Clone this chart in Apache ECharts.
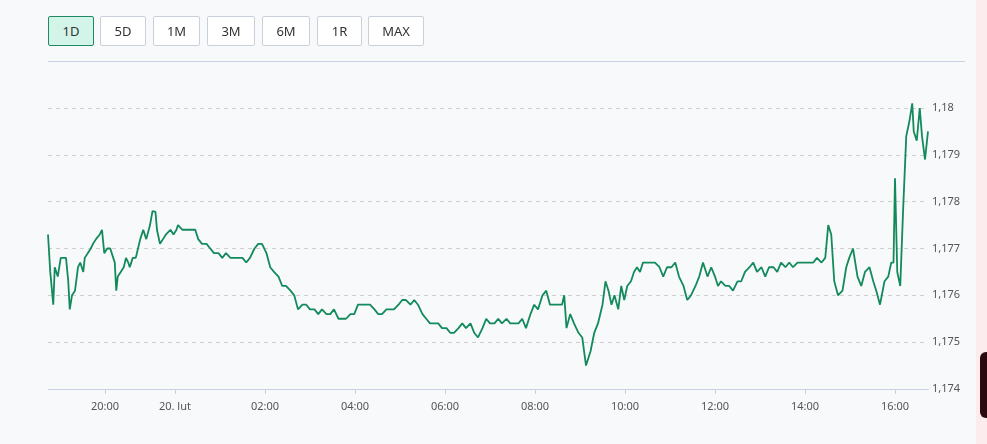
<!DOCTYPE html>
<html><head><meta charset="utf-8">
<script src="https://cdn.jsdelivr.net/npm/echarts@6/dist/echarts.min.js"></script>
<style>
html,body{margin:0;padding:0;background:#f8f9fa;font-family:"Noto Sans","Open Sans",sans-serif;}
#wrap{position:relative;width:987px;height:444px;overflow:hidden;}
.btn{position:absolute;top:16px;height:30px;box-sizing:border-box;border:1px solid #c9cfdb;background:#fff;font-size:13px;color:#333;display:flex;align-items:center;justify-content:center;border-radius:2px;}
.btn.on{background:#d3f5e9;border-color:#1f8a60;}
#sep{position:absolute;left:48px;top:61px;width:917px;height:1px;background:#c8d0e2;}
#chart{position:absolute;left:0;top:0;width:987px;height:444px;}
#pink{position:absolute;left:976px;top:0;width:11px;height:444px;background:#fcecee;}
#dark{position:absolute;left:980px;top:352px;width:7px;height:66px;background:#2a0a0f;border-radius:6px 0 0 6px;}
</style></head>
<body><div id="wrap">
<div id="chart"></div>
<div id="sep"></div>
<div class="btn on" style="left:48px;width:46px">1D</div>
<div class="btn" style="left:100px;width:46px">5D</div>
<div class="btn" style="left:153px;width:47px">1M</div>
<div class="btn" style="left:207px;width:48px">3M</div>
<div class="btn" style="left:262px;width:48px">6M</div>
<div class="btn" style="left:317px;width:45px">1R</div>
<div class="btn" style="left:368px;width:56px">MAX</div>
<div id="pink"></div><div id="dark"></div>
</div>
<script>
// minutes since 18:44 on 19 Feb
const START = 1124;
const offsets = [0,3,7,9,13,17,20,24,27,29,32,36,40,43,47,49,53,57,60,64,69,72,75,79,83,87,89,91,93,97,101,104,107,109,113,117,120,123,127,131,136,
286,290,292,296,300,304,310,314,318,320,326,331,336,343,
347,352,358,363,368,374,379,384,390,395,400,406,411,416,422,427,432,438,443,448,454,459,464,470,475,480,486,491,496,502,507,512,518,523,528,534,539,544,550,555,560,566,571,576,582,587,592,598,603,608,614,619,624,630,635,640,646,651,656,662,667,672,678,683,688,694,699,704,710,715,720,726,731,736,742,747,752,758,763,768,774,779,784,790,795,800,806,811,816,822,827,832,
835,838,843,848,854,859,864,870,875,880,886,890,894,898,902,907,911,915,919,924,928,932,936,940,946,951,956,962,967,972,978,983,988,994,999,1004,1010,1015,1020,1026,1031,1036,1040,1044,1050,1055,1060,1066,1071,1076,1082,1087,1092,1098,1103,1108,1114,1119,1124,1130,1135,1140,1146,1151,1156,1162,1167,1172,1178,1183,1187,1191,1195,1200,1206,1211,1215,1220,1226,1231,1236,1242,1247,1251,1256,1262,1267,1271,1274,1276,1279,1283,1287,1291,1295,1299,1301,1305,1309,1312,1316,1320];
const prices = [1.1773,1.1765,1.1758,1.1766,1.1764,1.1768,1.1768,1.1768,1.1763,1.1757,1.1760,1.1761,1.1766,1.1767,1.1765,1.1768,1.1769,1.1770,1.1771,1.1772,1.1773,1.1774,1.1769,1.1770,1.1770,1.1768,1.1767,1.1761,1.1764,1.1765,1.1766,1.1768,1.1767,1.1766,1.1768,1.1768,1.1770,1.1772,1.1774,1.1772,1.1775,
1.1778,1.17778,1.1774,1.1771,1.1772,1.1773,1.1774,1.1773,1.1774,1.1775,1.1774,1.1774,1.1774,1.1774,
1.1772,1.1771,1.1771,1.1770,1.1769,1.1769,1.1768,1.1769,1.1768,1.1768,1.1768,1.1768,1.1767,1.1768,1.1770,1.1771,1.1771,1.1769,1.1766,1.1765,1.1764,1.1762,1.1762,1.1761,1.1760,1.1757,1.1758,1.1758,1.1757,1.1757,1.1756,1.1757,1.1756,1.1756,1.1757,1.1755,1.1755,1.1755,1.1756,1.1756,1.1758,1.1758,1.1758,1.1758,1.1757,1.1756,1.1756,1.1757,1.1757,1.1757,1.1758,1.1759,1.1759,1.1758,1.1759,1.1758,1.1756,1.1755,1.1754,1.1754,1.1754,1.1753,1.1753,1.1752,1.1752,1.1753,1.1754,1.1753,1.1754,1.1752,1.1751,1.1753,1.1755,1.1754,1.1754,1.1755,1.1754,1.1755,1.1754,1.1754,1.1754,1.1755,1.1753,1.1756,1.1758,1.1757,1.1760,1.1761,1.1758,1.1758,1.1758,1.1758,
1.1760,1.1753,1.1756,1.1754,1.1752,1.1751,1.1745,1.1748,1.1752,1.1754,1.1758,1.1763,1.1761,1.1758,1.1760,1.1757,1.1762,1.1759,1.1762,1.1763,1.1765,1.1766,1.1765,1.1767,1.1767,1.1767,1.1767,1.1766,1.1764,1.1766,1.1766,1.1767,1.1764,1.1762,1.1759,1.1760,1.1762,1.1764,1.1767,1.1764,1.1766,1.1764,1.1762,1.1763,1.1762,1.1762,1.1761,1.1763,1.1763,1.1765,1.1766,1.1767,1.1765,1.1766,1.1764,1.1766,1.1766,1.1765,1.1767,1.1766,1.1767,1.1766,1.1767,1.1767,1.1767,1.1767,1.1767,1.1768,1.1767,1.1768,1.1775,1.1773,1.1763,1.1760,1.1761,1.1766,1.1768,1.1770,1.1764,1.1762,1.1765,1.1766,1.1763,1.1761,1.1758,1.1763,1.1764,1.1767,1.1767,1.1785,1.1765,1.1762,1.1779,1.1794,1.1797,1.1801,1.1795,1.1793,1.1800,1.1794,1.1789,1.1795,1.1792];
const tickMinutes = [1200,1440,1560,1680,1800,1920,2040,2160,2280,2400];

const data = offsets.map((m,i)=>[START+m, prices[i]]);
function fmtT(v){ if (v===1440) return '20. lut'; const mm=((v%1440)+1440)%1440; const h=Math.floor(mm/60), mi=Math.round(mm%60); return String(h).padStart(2,'0')+':'+String(mi).padStart(2,'0'); }
const chart = echarts.init(document.getElementById('chart'));
chart.setOption({
  animation:false,
  grid:{left:48,right:59,top:108,bottom:55},
  xAxis:{type:'value',min:START,max:START+1320,
    breaks:[{start:1260,end:1406.7,gap:0}],
    breakArea:{show:false},
    axisLine:{lineStyle:{color:'#c8d0e2',width:1}},
    axisTick:{show:true,customValues:tickMinutes,length:5,lineStyle:{color:'#c8d0e2'}},
    axisLabel:{customValues:tickMinutes,formatter:fmtT,color:'#555',fontSize:11,margin:12,fontFamily:'Noto Sans'},
    splitLine:{show:false}},
  yAxis:{type:'value',position:'right',min:1.174,max:1.18,interval:0.001,
    axisLine:{show:false},axisTick:{show:false},
    axisLabel:{color:'#555',fontSize:11,margin:4,fontFamily:'Noto Sans',
      formatter:v=>{ let s=(+v.toFixed(3)).toString(); return s.replace('.',','); }},
    splitLine:{lineStyle:{color:'#cfcfcf',type:[4,4]}}},
  series:[{type:'line',data:data,clip:false,showSymbol:false,symbol:'none',lineStyle:{color:'#128a5c',width:1.8},itemStyle:{color:'#128a5c'}}]
});
</script></body></html>
